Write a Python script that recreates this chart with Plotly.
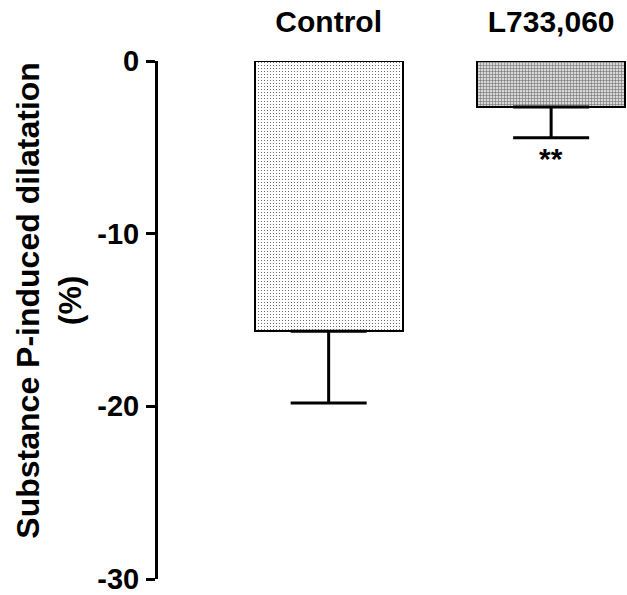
import plotly.graph_objects as go

categories = ["Control", "L733,060"]
values = [-15.65, -2.66]
errors_minus = [4.15, 1.78]
y_ticks = [0, -10, -20, -30]
y_title = "Substance P-induced dilatation<br>(%)"
significance = "**"

fig = go.Figure()
fig.add_trace(go.Bar(
    x=[0], y=[values[0]],
    width=0.664,
    marker=dict(color="white", line=dict(color="black", width=2),
                pattern=dict(shape=".", fgcolor="#555555", bgcolor="white",
                             size=3, solidity=0.12, fillmode="replace")),
    error_y=dict(type="data", symmetric=False, array=[0], arrayminus=[errors_minus[0]],
                 color="black", thickness=3, width=38),
    showlegend=False,
))
fig.add_trace(go.Bar(
    x=[1], y=[values[1]],
    width=0.664,
    marker=dict(color="#c8c8c8", line=dict(color="black", width=2),
                pattern=dict(shape="+", fgcolor="#707070", bgcolor="#d8d8d8",
                             size=3, solidity=0.35, fillmode="replace")),
    error_y=dict(type="data", symmetric=False, array=[0], arrayminus=[errors_minus[1]],
                 color="black", thickness=3, width=38),
    showlegend=False,
))

fig.add_annotation(x=1, y=values[1] - errors_minus[1], yshift=-2,
                   text=f"<b>{significance}</b>", showarrow=False, yanchor="top",
                   font=dict(family="Liberation Sans, Arial", size=30, color="black"))

# y-axis title as rotated annotation (positioned slightly above plot centre, as in reference)
fig.add_annotation(xref="paper", yref="paper", x=-0.2313, y=0.5384,
                   text=f"<b>{y_title}</b>", textangle=-90, showarrow=False,
                   xanchor="center", yanchor="middle",
                   font=dict(family="Liberation Sans, Arial", size=32, color="black"))

fig.update_layout(
    width=627, height=595,
    margin=dict(l=158, r=0, t=60.5, b=13.5),
    plot_bgcolor="white", paper_bgcolor="white",
    font=dict(family="Liberation Sans, Arial", color="black"),
    xaxis=dict(range=[-0.767, 1.341], side="top",
               tickmode="array", tickvals=[0, 1], ticktext=[f"<b>{c}</b>" for c in categories],
               tickfont=dict(size=30), showline=False, ticks="", showgrid=False,
               zeroline=False, ticklabelstandoff=22),
    yaxis=dict(range=[-30, 0], tickmode="array", tickvals=y_ticks,
               ticktext=[f"<b>{t}</b>" for t in y_ticks],
               tickfont=dict(size=29), showline=True, linecolor="black", linewidth=3,
               ticks="outside", ticklen=9, tickwidth=3, tickcolor="black",
               showgrid=False, zeroline=False, ticklabeloverflow="allow",
               ticklabelstandoff=1),
    bargap=0,
)

fig.write_html("out.html")
